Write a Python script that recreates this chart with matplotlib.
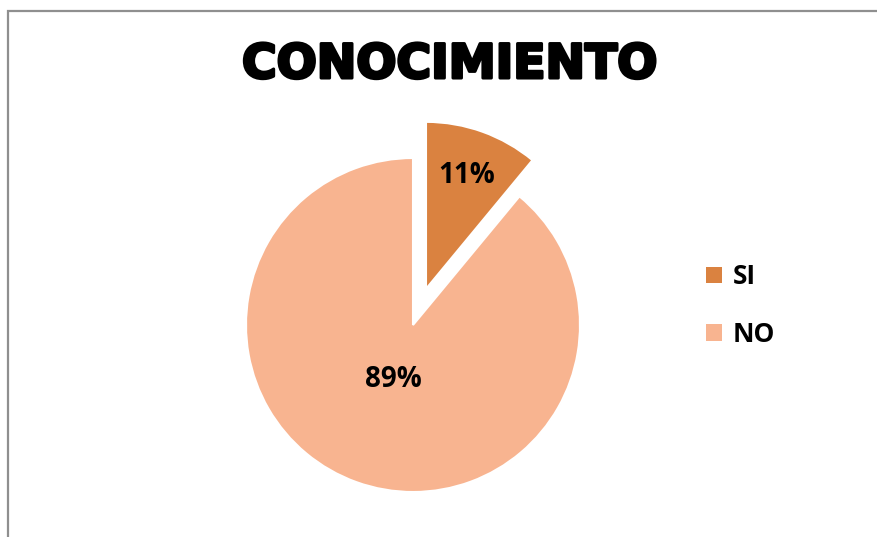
import numpy as np
import matplotlib
matplotlib.use("Agg")
import matplotlib.pyplot as plt
import matplotlib.patheffects as pe
from matplotlib.patches import Rectangle

labels = ["SI", "NO"]
values = [11, 89]
colors = ["#DA8240", "#F8B490"]
explode = [0.23, 0.0]

W, H = 878, 537
fig = plt.figure(figsize=(W / 100, H / 100), dpi=100)

# chart frame (only the left and top edges fall inside the image)
fig.patches.append(Rectangle((8 / W, -0.1), 1.2, 1.1 - 11 / H,
                             transform=fig.transFigure, fill=False,
                             edgecolor="#8f8f8f", lw=1.6, zorder=0))

# pie: center (413, 325) px, radius 167 px
r_px = 167
lim = 1.3
side = 2 * lim * r_px
ax = fig.add_axes([(413 - side / 2) / W, (H - 325 - side / 2) / H, side / W, side / H])

wedges, texts, autotexts = ax.pie(
    values, colors=colors, explode=explode, startangle=90, counterclock=False,
    autopct="%d%%", pctdistance=0.35, radius=1.0,
    wedgeprops=dict(edgecolor="white", linewidth=1.5),
    textprops=dict(fontsize=20, fontweight="bold", family="Open Sans", color="black"),
)
ax.set_xlim(-lim, lim)
ax.set_ylim(-lim, lim)
ax.set_aspect("equal")
ax.axis("off")

# push the small wedge's label outward
w = wedges[0]
mid = np.deg2rad((w.theta1 + w.theta2) / 2)
cx, cy = w.center
autotexts[0].set_position((cx + 0.72 * np.cos(mid), cy + 0.72 * np.sin(mid)))

fig.text(450 / W, 1 - 65.5 / H, "CONOCIMIENTO", ha="center", va="center",
         fontsize=34, fontweight="bold", family="DejaVu Sans", color="black",
         path_effects=[pe.withStroke(linewidth=2.2, foreground="black")])

leg = fig.legend(wedges, labels, loc="center left", bbox_to_anchor=(706 / W, 1 - 305.5 / H),
                 frameon=False, borderpad=0, borderaxespad=0,
                 handlelength=0.6, handleheight=0.6, handletextpad=0.4,
                 labelspacing=1.15,
                 prop=dict(family="Open Sans", weight="bold", size=19))
for h in leg.legend_handles:
    h.set_edgecolor("none")

fig.savefig("out.png", dpi=100)
